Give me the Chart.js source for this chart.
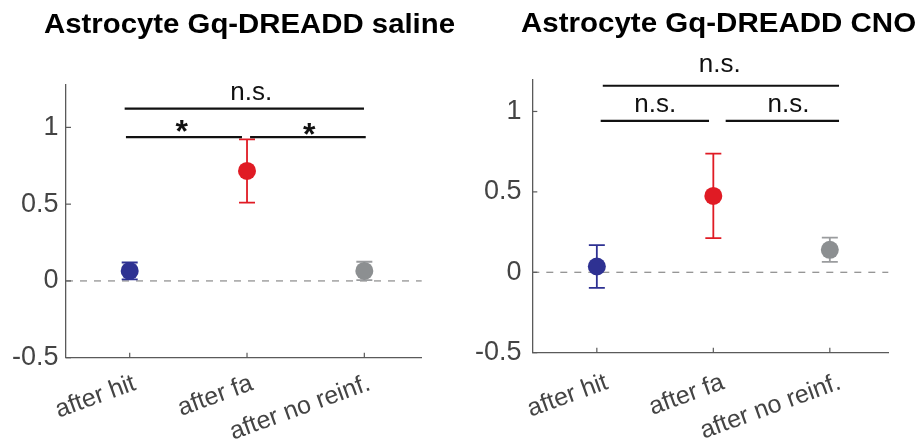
<!DOCTYPE html>
<html><head><meta charset="utf-8">
<script src="https://cdn.jsdelivr.net/npm/chart.js@4.4.1/dist/chart.umd.min.js"></script>
<style>
html,body{margin:0;padding:0;background:#fff;width:917px;height:448px;overflow:hidden}
canvas{position:absolute;top:0}
#c1{left:0}
#c2{left:458px}
</style></head><body>
<canvas id="c1" width="458" height="448"></canvas>
<canvas id="c2" width="459" height="448"></canvas>
<script>
// ---- data ----
const categories = ['after hit', 'after fa', 'after no reinf.'];
const yTickValues = [-0.5, 0, 0.5, 1];
const salineMean = [0.065, 0.716, 0.065];
const salineSem  = [0.055, 0.206, 0.060];
const cnoMean = [0.036, 0.475, 0.140];
const cnoSem  = [0.133, 0.263, 0.075];
// significance lines: [xStart, xEnd, y] in category units / data units
const salineBrackets = [[0.957, 2.997, 1.122], [0.968, 1.957, 0.937], [2.026, 3.012, 0.937]];
const salineMarks = [['n.s.', 2.03, 1.222], ['*', 1.446, 1.010], ['*', 2.532, 0.988]];
const cnoBrackets = [[1.051, 3.079, 1.160], [1.033, 1.963, 0.942], [2.106, 3.079, 0.942]];
const cnoMarks = [['n.s.', 2.05, 1.29], ['n.s.', 1.496, 1.039], ['n.s.', 2.64, 1.039]];
const titles = ['Astrocyte Gq-DREADD saline', 'Astrocyte Gq-DREADD CNO'];

// ---- styles ----
const FONT = 'Arial, "Liberation Sans", Helvetica, sans-serif';
const pointColors = ['#2E3192', '#E01B24', '#8C8F91'];
const errColors = ['#2E3192', '#E01B24', '#9A9C9E'];
const axisColor = '#5a5a5a';
const labelColor = '#444444';

function drawCentered(ctx, text, cx, cy, font) {
  ctx.font = font;
  const m = ctx.measureText(text);
  const w = m.actualBoundingBoxLeft + m.actualBoundingBoxRight;
  ctx.textAlign = 'left';
  ctx.textBaseline = 'alphabetic';
  ctx.fillText(text, cx - w / 2 + m.actualBoundingBoxLeft,
    cy + (m.actualBoundingBoxAscent - m.actualBoundingBoxDescent) / 2);
}

function makePanel(canvas, cfg) {
  const overlay = {
    id: 'overlay',
    beforeDatasetsDraw(chart) {
      const ctx = chart.ctx, xs = chart.scales.x, ys = chart.scales.y, a = chart.chartArea;
      ctx.save();
      // zero dashed line
      ctx.strokeStyle = '#8a8a8a'; ctx.lineWidth = 1.2; ctx.setLineDash([7, 7]);
      const y0 = ys.getPixelForValue(0);
      ctx.beginPath(); ctx.moveTo(a.left, y0); ctx.lineTo(a.right, y0); ctx.stroke();
      ctx.setLineDash([]);
      // inside ticks
      ctx.strokeStyle = axisColor; ctx.lineWidth = 1.2;
      yTickValues.forEach(v => {
        const p = ys.getPixelForValue(v);
        ctx.beginPath(); ctx.moveTo(a.left, p); ctx.lineTo(a.left + 5, p); ctx.stroke();
      });
      categories.forEach((c, i) => {
        const p = xs.getPixelForValue(i + 1);
        ctx.beginPath(); ctx.moveTo(p, a.bottom); ctx.lineTo(p, a.bottom - 5); ctx.stroke();
      });
      // error bars
      ctx.lineWidth = 1.8;
      cfg.mean.forEach((m, i) => {
        const px = xs.getPixelForValue(i + 1);
        const t = ys.getPixelForValue(m + cfg.sem[i]);
        const b = ys.getPixelForValue(m - cfg.sem[i]);
        ctx.strokeStyle = errColors[i];
        ctx.beginPath();
        ctx.moveTo(px, t); ctx.lineTo(px, b);
        ctx.moveTo(px - 8, t); ctx.lineTo(px + 8, t);
        ctx.moveTo(px - 8, b); ctx.lineTo(px + 8, b);
        ctx.stroke();
      });
      ctx.restore();
    },
    afterDraw(chart) {
      const ctx = chart.ctx, xs = chart.scales.x, ys = chart.scales.y;
      ctx.save();
      // significance lines
      ctx.strokeStyle = '#111'; ctx.lineWidth = 2.2;
      cfg.brackets.forEach(([x1, x2, y]) => {
        const py = ys.getPixelForValue(y);
        ctx.beginPath(); ctx.moveTo(xs.getPixelForValue(x1), py); ctx.lineTo(xs.getPixelForValue(x2), py); ctx.stroke();
      });
      ctx.fillStyle = '#111';
      cfg.marks.forEach(([txt, x, y]) => {
        const font = txt === '*' ? 'bold 32px ' + FONT : '26px ' + FONT;
        drawCentered(ctx, txt, xs.getPixelForValue(x), ys.getPixelForValue(y), font);
      });
      // title
      ctx.font = 'bold 27px ' + FONT;
      ctx.fillStyle = '#000';
      ctx.textAlign = 'left'; ctx.textBaseline = 'alphabetic';
      const m = ctx.measureText(cfg.title);
      const w = m.actualBoundingBoxLeft + m.actualBoundingBoxRight;
      ctx.translate(cfg.titleX, cfg.titleBase);
      ctx.scale(cfg.titleW / w, 1);
      ctx.fillText(cfg.title, m.actualBoundingBoxLeft, 0);
      ctx.restore();
    }
  };

  return new Chart(canvas, {
    type: 'scatter',
    data: {
      datasets: [{
        data: cfg.mean.map((v, i) => ({ x: i + 1, y: v })),
        pointBackgroundColor: pointColors,
        pointBorderWidth: 0,
        pointRadius: 9,
        pointHoverRadius: 9
      }]
    },
    options: {
      responsive: false,
      animation: false,
      devicePixelRatio: 1,
      layout: { padding: { top: cfg.padTop, right: cfg.padRight, left: 0, bottom: 0 } },
      plugins: { legend: { display: false }, tooltip: { enabled: false } },
      scales: {
        x: {
          type: 'linear', min: cfg.xMin, max: cfg.xMax,
          grid: { display: false, drawTicks: false, tickLength: 0 },
          border: { display: true, color: axisColor, width: 1.3 },
          afterBuildTicks: s => { s.ticks = categories.map((c, i) => ({ value: i + 1 })); },
          afterFit: s => { s.height = cfg.bottomH; },
          ticks: {
            callback: v => categories[v - 1] || '',
            minRotation: 20, maxRotation: 20, autoSkip: false,
            font: { family: FONT, size: 25 }, color: labelColor,
            padding: cfg.xPad, labelOffset: cfg.xOff
          }
        },
        y: {
          min: -0.5, max: cfg.yMax,
          grid: { display: false, drawTicks: false, tickLength: 0 },
          border: { display: true, color: axisColor, width: 1.3 },
          afterBuildTicks: s => { s.ticks = yTickValues.map(v => ({ value: v })); },
          afterFit: s => { s.width = cfg.leftW; },
          ticks: {
            callback: v => String(v),
            font: { family: FONT, size: 27 }, color: labelColor,
            padding: cfg.yPad
          }
        }
      }
    },
    plugins: [overlay]
  });
}

makePanel(document.getElementById('c1'), {
  mean: salineMean, sem: salineSem, brackets: salineBrackets, marks: salineMarks, title: titles[0],
  xMin: 0.457, xMax: 3.489, yMax: 1.276,
  leftW: 66, bottomH: 90.3, padTop: 85, padRight: 36.3, yPad: 7.5, xPad: 11, xOff: 5,
  titleX: 44, titleBase: 33, titleW: 411
});
makePanel(document.getElementById('c2'), {
  mean: cnoMean, sem: cnoSem, brackets: cnoBrackets, marks: cnoMarks, title: titles[1],
  xMin: 0.446, xMax: 3.502, yMax: 1.2,
  leftW: 74.3, bottomH: 95.3, padTop: 79.3, padRight: 28.7, yPad: 10.8, xPad: 15, xOff: 10,
  titleX: 63, titleBase: 31.7, titleW: 394
});
</script>
</body></html>
